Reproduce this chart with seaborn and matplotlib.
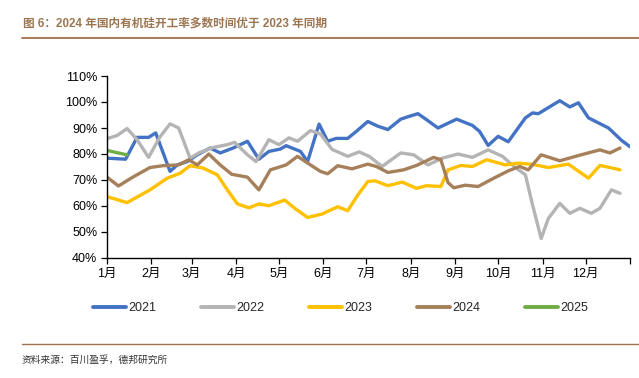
import matplotlib
matplotlib.use("Agg")
import matplotlib.pyplot as plt
from matplotlib.lines import Line2D
import seaborn as sns
import pandas as pd

# ---- data (day of year, operating rate %) ----
days_2021 = [0, 13, 21, 29, 34, 44, 49, 56, 63, 72, 79, 88, 98, 106, 113, 121, 125, 135, 140, 148,
             154, 160, 168, 174, 182, 189, 196, 205, 211, 217, 223, 231, 244, 255, 260, 266, 273,
             280, 292, 297, 301, 316, 323, 329, 336, 350, 359, 365]
rate_2021 = [78.4, 78.0, 86.4, 86.4, 88.1, 73.3, 75.8, 77.1, 79.7, 82.3, 80.4, 82.3, 84.9, 78.0, 81.0,
             81.9, 83.2, 81.0, 77.1, 91.5, 84.9, 86.0, 86.0, 88.7, 92.5, 90.7, 89.4, 93.4, 94.5, 95.5,
             93.2, 90.0, 93.4, 91.0, 88.7, 83.3, 86.8, 84.7, 93.9, 95.8, 95.5, 100.5, 98.1, 99.7, 93.9,
             90.0, 85.3, 82.8]

days_2022 = [0, 7, 14, 21, 29, 37, 44, 50, 58, 64, 74, 84, 89, 98, 104, 113, 120, 127, 133, 142, 149,
             157, 168, 176, 183, 192, 205, 214, 224, 234, 245, 255, 266, 276, 284, 292, 297, 303, 308,
             316, 323, 330, 338, 344, 352, 358]
rate_2022 = [85.9, 87.1, 89.8, 85.5, 78.7, 86.6, 91.6, 90.0, 78.4, 80.4, 82.5, 83.6, 84.5, 79.7, 77.1,
             85.5, 83.6, 86.2, 84.9, 89.0, 87.7, 81.8, 79.1, 80.8, 79.1, 75.2, 80.4, 79.7, 75.8, 78.4,
             80.0, 78.7, 81.6, 79.1, 75.2, 72.0, 60.4, 47.5, 55.2, 61.0, 57.2, 59.1, 57.2, 59.1, 66.2,
             64.9]

days_2023 = [0, 14, 30, 42, 51, 58, 67, 77, 84, 91, 99, 106, 113, 124, 132, 140, 150, 161, 168, 175,
             182, 187, 196, 206, 216, 223, 233, 238, 247, 255, 265, 278, 287, 297, 308, 322, 336, 344,
             351, 358]
rate_2023 = [63.6, 61.3, 66.2, 70.7, 72.6, 75.5, 74.6, 72.0, 66.2, 60.8, 59.3, 60.8, 60.1, 62.3, 58.7,
             55.6, 56.9, 59.7, 58.2, 64.2, 69.4, 69.7, 67.8, 69.2, 66.8, 67.8, 67.5, 73.9, 75.6, 75.2,
             77.8, 75.8, 76.5, 76.0, 74.8, 76.1, 70.7, 75.6, 74.8, 73.9]

days_2024 = [0, 8, 18, 30, 39, 50, 57, 63, 71, 79, 87, 98, 106, 114, 125, 133, 142, 149, 154, 161, 171,
             182, 188, 196, 207, 216, 223, 228, 233, 238, 242, 250, 259, 271, 280, 288, 294, 303, 316,
             331, 344, 351, 358]
rate_2024 = [71.1, 67.7, 71.1, 74.8, 75.5, 75.8, 77.8, 75.8, 80.0, 75.8, 72.2, 71.1, 66.2, 73.9, 75.8,
             79.1, 75.8, 73.3, 72.4, 75.5, 74.3, 76.1, 75.2, 72.9, 73.9, 75.6, 77.4, 78.7, 77.8, 69.0,
             67.0, 68.0, 67.5, 71.0, 73.5, 75.2, 73.9, 79.7, 77.4, 79.7, 81.6, 80.4, 82.3]

days_2025 = [0, 7, 14]
rate_2025 = [81.4, 80.5, 79.7]

years = ["2021", "2022", "2023", "2024", "2025"]
colors = ["#4472C4", "#B4B4B4", "#FFC000", "#A5805A", "#70AD47"]

month_days = [0, 31, 59, 90, 120, 151, 181, 212, 243, 273, 304, 334, 365]
month_labels = ["1月", "2月", "3月", "4月", "5月", "6月", "7月", "8月", "9月", "10月", "11月", "12月", ""]
y_ticks = [40, 50, 60, 70, 80, 90, 100, 110]

title = "图 6：2024 年国内有机硅开工率多数时间优于 2023 年同期"
source = "资料来源：百川盈孚，德邦研究所"

frames = []
for yr, d, r in zip(years, [days_2021, days_2022, days_2023, days_2024, days_2025],
                    [rate_2021, rate_2022, rate_2023, rate_2024, rate_2025]):
    frames.append(pd.DataFrame({"day": d, "rate": r, "year": yr}))
df = pd.concat(frames, ignore_index=True)

# ---- style ----
sns.set_theme(style="ticks")
plt.rcParams["font.family"] = ["Liberation Sans", "Noto Sans CJK SC", "DejaVu Sans"]

fig = plt.figure(figsize=(6.39, 3.78), dpi=100)
ax = fig.add_axes([107 / 639, 1 - 258 / 378, (630 - 107) / 639, (258 - 76) / 378])

sns.lineplot(data=df, x="day", y="rate", hue="year", hue_order=years,
             palette=dict(zip(years, colors)), linewidth=2.4, ax=ax, legend=False,
             sort=True, estimator=None)
for ln in ax.lines:
    ln.set_solid_joinstyle("round")
    ln.set_solid_capstyle("round")

ax.set_xlim(0, 365)
ax.set_ylim(40, 110)
ax.set_xticks(month_days)
ax.set_xticklabels(month_labels)
ax.set_yticks(y_ticks)
ax.set_yticklabels([f"{v}%" for v in y_ticks])
ax.set_xlabel("")
ax.set_ylabel("")
sns.despine(ax=ax)
for s in ["left", "bottom"]:
    ax.spines[s].set_color("black")
    ax.spines[s].set_linewidth(1.0)
ax.tick_params(axis="both", direction="out", length=4, width=0.9, color="black",
               labelsize=9, labelcolor="black", pad=3)

# legend
handles = [Line2D([0], [0], color=c, lw=2.8) for c in colors]
fig.legend(handles, years, loc="center", bbox_to_anchor=(0.533, 1 - 308 / 378), ncol=5,
           frameon=False, fontsize=9, handlelength=2.6, handletextpad=0.2,
           columnspacing=3.6)

# title and decorations
fig.text(23 / 639, 1 - 24 / 378, title, fontsize=8.4, fontweight="bold", color="#9C7650",
         ha="left", va="center")
fig.add_artist(Line2D([22 / 639, 1], [1 - 37.5 / 378] * 2, color="#A0724F", lw=1.3))
fig.add_artist(Line2D([22 / 639, 1], [1 - 344 / 378] * 2, color="#A0724F", lw=1.0))
fig.text(22 / 639, 1 - 360 / 378, source, fontsize=7, color="#333333", ha="left", va="center")

fig.savefig("out.png", dpi=100)
